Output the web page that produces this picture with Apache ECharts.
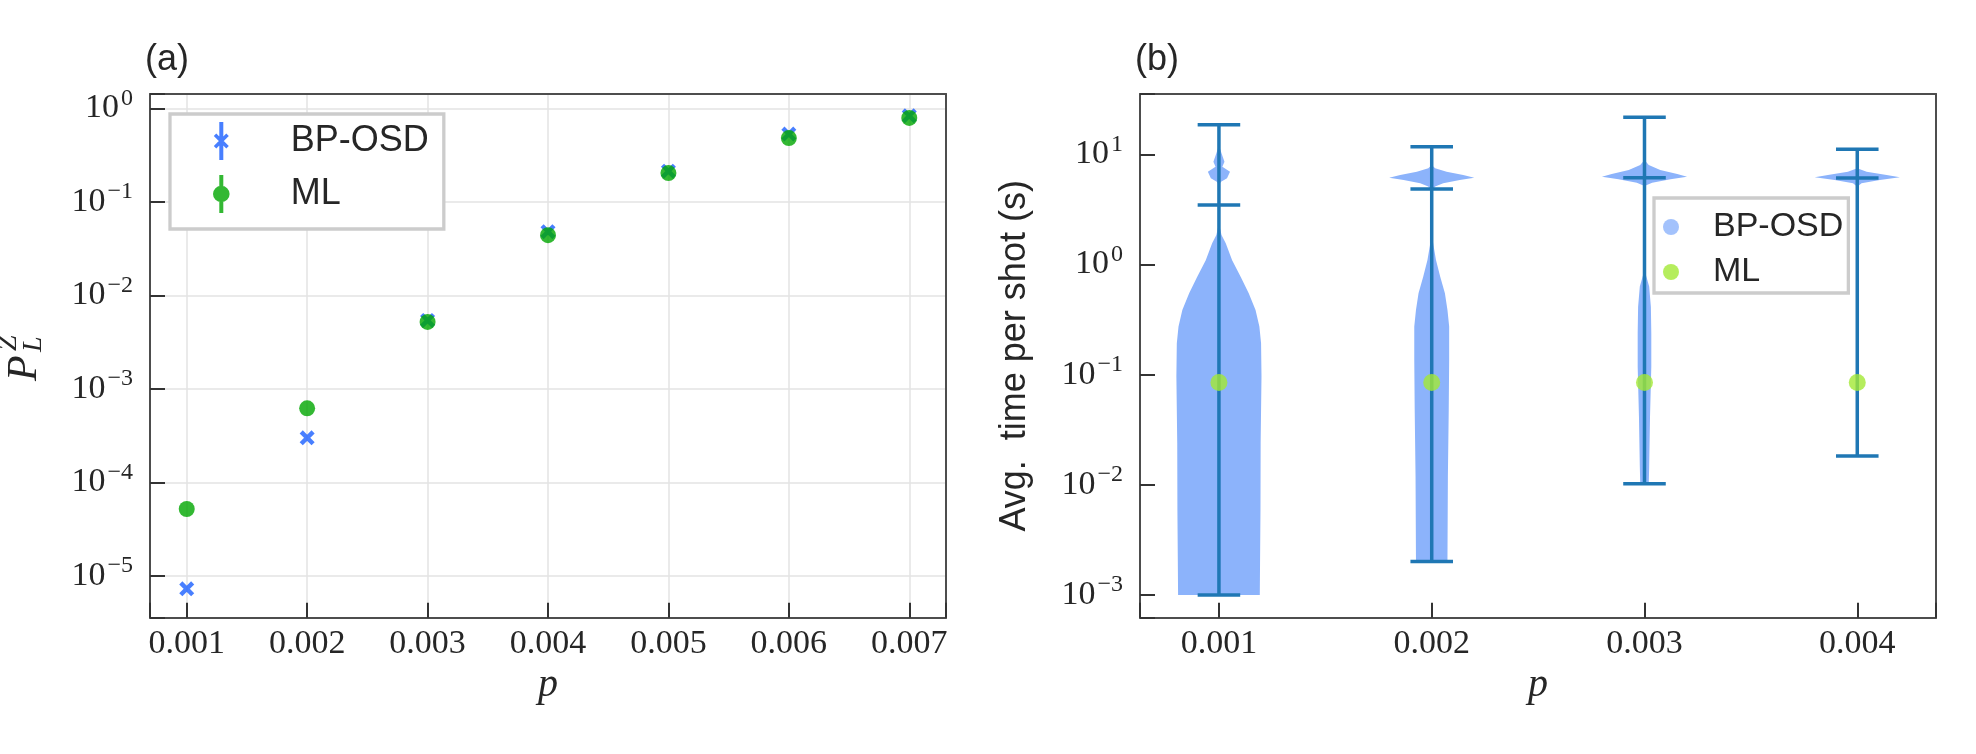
<!DOCTYPE html>
<html>
<head>
<meta charset="utf-8">
<script src="https://cdn.jsdelivr.net/npm/echarts@6/dist/echarts.min.js"></script>
<style>
html, body { margin: 0; padding: 0; background: #fff; }
#main { width: 1976px; height: 754px; }
</style>
</head>
<body>
<div id="main"></div>
<script>
var chart = echarts.init(document.getElementById('main'))

// (a) logical error rate vs physical error rate p
var pA = [0.001, 0.002, 0.003, 0.004, 0.005, 0.006, 0.007]
var bposdRate = [7.3e-6, 3.0e-4, 5.4e-3, 4.8e-2, 0.213, 0.53, 0.83]
var mlRate = [5.2e-5, 6.2e-4, 5.2e-3, 4.4e-2, 0.203, 0.48, 0.79]

// (b) time per shot
var pB = [0.001, 0.002, 0.003, 0.004]
var timeMin = [0.001, 0.00201, 0.0102, 0.0183]
var timeMax = [18.5, 11.7, 21.7, 11.1]
var timeMean = [3.47, 4.84, 6.13, 6.1]
var mlTime = [0.085, 0.085, 0.085, 0.085]

// violin outlines: [time (s), relative half width]
var violin1 = [[0.001, 0.96], [0.0059, 0.976], [0.0238, 0.98], [0.096, 1.0], [0.193, 0.99], [0.273, 0.95],
  [0.386, 0.86], [0.548, 0.70], [0.774, 0.51], [1.09, 0.31], [1.56, 0.16], [1.85, 0.06], [2.37, 0],
  [5.25, 0], [5.64, 0.05], [6.05, 0.19], [6.95, 0.26], [7.7, 0.08], [8.57, 0.13], [10.2, 0.06], [12.1, 0]]
var violin2 = [[0.00201, 0.37], [0.0119, 0.38], [0.048, 0.40], [0.136, 0.41], [0.273, 0.41], [0.386, 0.37],
  [0.548, 0.31], [0.774, 0.20], [1.1, 0.10], [1.5, 0.04], [1.92, 0], [4.58, 0], [5.09, 0.08], [5.46, 0.27],
  [5.85, 0.66], [6.13, 1.0], [6.49, 0.74], [6.95, 0.35], [7.47, 0.08], [8.0, 0]]
var violin3 = [[0.0103, 0.10], [0.0146, 0.11], [0.0416, 0.13], [0.118, 0.16], [0.238, 0.16], [0.414, 0.15],
  [0.63, 0.11], [0.89, 0], [5.15, 0], [5.52, 0.18], [5.93, 0.61], [6.26, 1.0], [6.63, 0.77], [7.2, 0.37],
  [8.0, 0.10], [8.87, 0]]
var violin4 = [[5.08, 0], [5.46, 0.10], [5.85, 0.53], [6.18, 1.0], [6.49, 0.69], [6.95, 0.22], [7.47, 0]]
var violins = [violin1, violin2, violin3, violin4]

var SERIF = "'Liberation Serif', 'DejaVu Serif', serif"
var SANS = "'Liberation Sans', 'DejaVu Sans', sans-serif"
var blueA = '#1a5fff'
var greenA = '#00a600'
var violinFill = '#8cb3fb'
var lineBlue = '#1f77b4'
var mlGreen = '#a2e835'
var axisGray = '#4d4d4d'
var textDark = '#262626'

var violinHalf = 0.0002
var capHalf = 0.0001

// legend icons: errorbar + marker
var iconBP = 'path://M6.5,0 L10.5,0 L10.5,38 L6.5,38 Z M1,14 L3.5,11.5 L16,24 L13.5,26.5 Z M13.5,11.5 L16,14 L3.5,26.5 L1,24 Z'
var iconML = 'path://M6.5,0 L10.5,0 L10.5,38 L6.5,38 Z M0.2,19 A8.3,8.3 0 1,1 16.8,19 A8.3,8.3 0 1,1 0.2,19 Z'
var xMark = 'path://M0,2.5 L2.5,0 L12,9.5 L9.5,12 Z M9.5,0 L12,2.5 L2.5,12 L0,9.5 Z'

function powLabel(v) {
  var l = Math.log10(v)
  var e = Math.round(l)
  if (Math.abs(l - e) > 1e-6) return ''
  return '{b|10}{s|' + (e < 0 ? '\u2212' + (-e) : e) + '}'
}
function pLabel(v) {
  var k = v * 1000
  return Math.abs(k - Math.round(k)) < 1e-6 ? v.toFixed(3) : ''
}
var powRich = {
  b: { fontFamily: SERIF, fontSize: 34, lineHeight: 44, color: textDark },
  s: { fontFamily: SERIF, fontSize: 24, verticalAlign: 'top', color: textDark, padding: [0, 0, 0, 2] }
}

function bottomAxis(gi, min, max) {
  return {
    gridIndex: gi, type: 'value', min: min, max: max, position: 'bottom',
    axisLine: { show: true, onZero: false, lineStyle: { color: axisGray, width: 2 } },
    axisTick: { show: true, inside: true, length: 15, lineStyle: { color: '#333', width: 2 } },
    axisLabel: { formatter: pLabel, margin: 9, fontFamily: SERIF, fontSize: 34, color: textDark },
    splitLine: { show: gi === 0, lineStyle: { color: '#e3e3e3', width: 1.5 } },
    name: 'p', nameLocation: 'middle', nameGap: 43,
    nameTextStyle: { fontFamily: SERIF, fontStyle: 'italic', fontSize: 40, color: textDark }
  }
}
function borderAxis(gi, type, min, max, pos) {
  return {
    gridIndex: gi, type: type, min: min, max: max, position: pos,
    axisLine: { show: true, onZero: false, lineStyle: { color: axisGray, width: 2 } },
    axisTick: { show: false }, axisLabel: { show: false }, splitLine: { show: false }
  }
}
function leftAxis(gi, min, max) {
  return {
    gridIndex: gi, type: 'log', min: min, max: max, position: 'left',
    axisLine: { show: true, onZero: false, lineStyle: { color: axisGray, width: 2 } },
    axisTick: { show: true, inside: true, length: 15, lineStyle: { color: '#333', width: 2 } },
    axisLabel: { formatter: powLabel, margin: 17, rich: powRich },
    splitLine: { show: gi === 0, lineStyle: { color: '#e3e3e3', width: 1.5 } }
  }
}

function renderViolin(params, api) {
  var i = params.dataIndex
  var p = pB[i]
  var prof = violins[i]
  var pts = []
  for (var k = 0; k < prof.length; k++) {
    pts.push(api.coord([p - prof[k][1] * violinHalf, prof[k][0]]))
  }
  for (var k = prof.length - 1; k >= 0; k--) {
    pts.push(api.coord([p + prof[k][1] * violinHalf, prof[k][0]]))
  }
  var ls = { stroke: lineBlue, lineWidth: 3.5 }
  function cap(t) {
    var a = api.coord([p - capHalf, t])
    var b = api.coord([p + capHalf, t])
    return { type: 'line', shape: { x1: a[0], y1: a[1], x2: b[0], y2: b[1] }, style: ls }
  }
  var top = api.coord([p, timeMax[i]])
  var bot = api.coord([p, timeMin[i]])
  return {
    type: 'group',
    children: [
      { type: 'polygon', shape: { points: pts }, style: { fill: violinFill } },
      { type: 'line', shape: { x1: top[0], y1: top[1], x2: bot[0], y2: bot[1] }, style: ls },
      cap(timeMin[i]), cap(timeMax[i]), cap(timeMean[i])
    ]
  }
}

var aMin = 3.583e-6, aMax = 1.422
var bMin = 6.22e-4, bMax = 35.27

var option = {
  animation: false,
  backgroundColor: '#fff',
  grid: [
    { left: 150, top: 94, width: 796, height: 523.7, outerBoundsMode: 'none' },
    { left: 1140, top: 94, width: 796, height: 523.7, outerBoundsMode: 'none' }
  ],
  xAxis: [
    bottomAxis(0, 0.000695, 0.007305),
    borderAxis(0, 'value', 0.000695, 0.007305, 'top'),
    bottomAxis(1, 0.000629, 0.00437),
    borderAxis(1, 'value', 0.000629, 0.00437, 'top')
  ],
  yAxis: [
    leftAxis(0, aMin, aMax),
    borderAxis(0, 'log', aMin, aMax, 'right'),
    Object.assign(leftAxis(1, bMin, bMax), {
      name: 'Avg.  time per shot (s)', nameLocation: 'middle', nameGap: 107, nameRotate: 90,
      nameTextStyle: { fontFamily: SANS, fontSize: 36, color: textDark }
    }),
    borderAxis(1, 'log', bMin, bMax, 'right')
  ],
  legend: [
    {
      orient: 'vertical', left: 170, top: 114, padding: [8, 15, 16, 43], itemGap: 15,
      itemWidth: 17, itemHeight: 38, selectedMode: false,
      backgroundColor: '#fff', borderColor: '#cccccc', borderWidth: 3.3,
      textStyle: { fontFamily: SANS, fontSize: 36, lineHeight: 38, color: textDark, padding: [0, 0, 0, 56] },
      data: [
        { name: 'BP-OSD', icon: iconBP, itemStyle: { color: blueA } },
        { name: 'ML', icon: iconML, itemStyle: { color: greenA } }
      ]
    },
    {
      orient: 'vertical', left: 1654, top: 198, padding: [12, 5, 4, 9], itemGap: 11,
      itemWidth: 16, itemHeight: 16, selectedMode: false,
      backgroundColor: '#fff', borderColor: '#cccccc', borderWidth: 3.3,
      textStyle: { fontFamily: SANS, fontSize: 34, lineHeight: 34, color: textDark, padding: [0, 0, 0, 29] },
      data: [
        { name: 'BP-OSD', icon: 'circle', itemStyle: { color: violinFill } },
        { name: 'ML', icon: 'circle', itemStyle: { color: mlGreen } }
      ]
    }
  ],
  graphic: [
    { type: 'text', x: 145, y: 60, style: { text: '(a)', fontFamily: SANS, fontSize: 36, fill: textDark, align: 'left', verticalAlign: 'middle' } },
    { type: 'text', x: 1135, y: 60, style: { text: '(b)', fontFamily: SANS, fontSize: 36, fill: textDark, align: 'left', verticalAlign: 'middle' } },
    {
      type: 'group', x: 25, y: 381, rotation: Math.PI / 2,
      children: [
        { type: 'text', x: 0, y: 0, style: { text: 'P', fontFamily: SERIF, fontStyle: 'italic', fontSize: 42, fill: textDark, align: 'left', verticalAlign: 'middle' } },
        { type: 'text', x: 30, y: -16, style: { text: 'Z', fontFamily: SERIF, fontStyle: 'italic', fontSize: 28, fill: textDark, align: 'left', verticalAlign: 'middle' } },
        { type: 'text', x: 29, y: 9, style: { text: 'L', fontFamily: SERIF, fontStyle: 'italic', fontSize: 28, fill: textDark, align: 'left', verticalAlign: 'middle' } }
      ]
    }
  ],
  series: [
    {
      name: 'BP-OSD', type: 'scatter', xAxisIndex: 0, yAxisIndex: 0,
      symbol: xMark, symbolSize: 15, itemStyle: { color: blueA },
      data: pA.map(function (p, i) { return [p, bposdRate[i]] })
    },
    {
      name: 'ML', type: 'scatter', xAxisIndex: 0, yAxisIndex: 0,
      symbol: 'circle', symbolSize: 16, itemStyle: { color: greenA },
      data: pA.map(function (p, i) { return [p, mlRate[i]] })
    },
    {
      name: 'BP-OSD', type: 'custom', xAxisIndex: 2, yAxisIndex: 2,
      itemStyle: { color: violinFill },
      renderItem: renderViolin,
      encode: { x: 0, y: 1 },
      data: pB.map(function (p, i) { return [p, timeMean[i]] })
    },
    {
      name: 'ML', type: 'scatter', xAxisIndex: 2, yAxisIndex: 2,
      symbol: 'circle', symbolSize: 17, itemStyle: { color: mlGreen },
      data: pB.map(function (p, i) { return [p, mlTime[i]] })
    }
  ]
}

chart.setOption(option)
</script>
</body>
</html>
